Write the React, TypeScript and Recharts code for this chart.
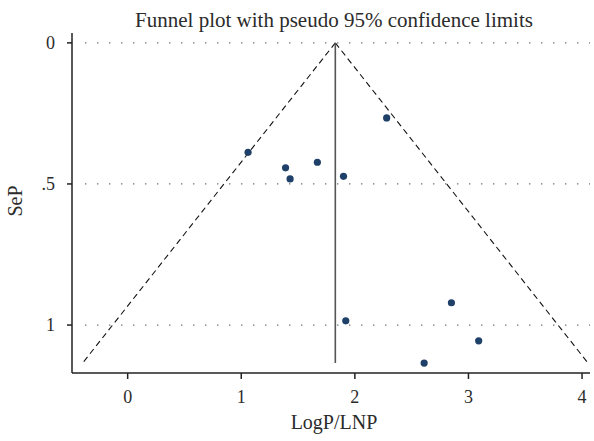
import {
  ComposedChart,
  ReferenceLine,
  Scatter,
  XAxis,
  YAxis,
} from "recharts";

// study estimates: effect (LogP/LNP) and standard error (SeP)
const effects = [1.06, 1.39, 1.43, 1.67, 1.9, 2.28, 1.92, 2.85, 3.09, 2.61];
const stdErrors = [0.388, 0.443, 0.482, 0.423, 0.473, 0.266, 0.985, 0.921, 1.056, 1.135];

// pooled estimate and pseudo 95% limits (apex -> bottom corners)
const pooled = 1.828;
const seMax = 1.135;
const leftLimit = [pooled, -0.397];
const rightLimit = [pooled, 4.053];
const limitSe = [0, seMax];

const xTicks = [0, 1, 2, 3, 4];
const yTicks = [0, 0.5, 1];
const xDomain = [-0.49, 4.07];
const yDomain = [-0.035, 1.17];

const title = "Funnel plot with pseudo 95% confidence limits";
const xLabel = "LogP/LNP";
const yLabel = "SeP";

const points = effects.map((x, i) => ({ x, y: stdErrors[i] }));

const FONT = "'Liberation Serif', 'DejaVu Serif', serif";
const TEXT = "#2b2b2b";
const AXIS = "#222";

const Dot = (props: any) => (
  <circle cx={props.cx} cy={props.cy} r={3.6} fill="#1f4068" />
);

export default function App() {
  return (
    <div style={{ position: "absolute", left: 0, top: 0, width: 594, height: 441, background: "#fff" }}>
      <ComposedChart
        width={594}
        height={441}
        margin={{ top: 33, right: 4, bottom: 28, left: 0 }}
      >
        <XAxis
          type="number"
          dataKey="x"
          domain={xDomain}
          ticks={xTicks}
          allowDataOverflow
          height={40}
          tickSize={6}
          tickMargin={11}
          axisLine={{ stroke: AXIS, strokeWidth: 1.5 }}
          tickLine={{ stroke: AXIS, strokeWidth: 1.5 }}
          tick={{ fontSize: 18, fill: TEXT, fontFamily: FONT }}
        />
        <YAxis
          type="number"
          dataKey="y"
          domain={yDomain}
          reversed
          ticks={yTicks}
          allowDataOverflow
          width={72}
          tickSize={5}
          tickMargin={12}
          tickFormatter={(v: number) => (v === 0.5 ? ".5" : String(v))}
          axisLine={{ stroke: AXIS, strokeWidth: 1.5 }}
          tickLine={{ stroke: AXIS, strokeWidth: 1.5 }}
          tick={{ fontSize: 18, fill: TEXT, fontFamily: FONT }}
        />
        {yTicks.map((t) => (
          <ReferenceLine
            key={t}
            segment={[
              { x: -0.375, y: t },
              { x: xDomain[1], y: t },
            ]}
            stroke="#666"
            strokeWidth={1.3}
            strokeDasharray="1.3 10.7"
            ifOverflow="visible"
          />
        ))}
        <ReferenceLine
          segment={[
            { x: leftLimit[0], y: limitSe[0] },
            { x: leftLimit[1], y: limitSe[1] },
          ]}
          stroke="#111"
          strokeWidth={1.1}
          strokeDasharray="6 4"
        />
        <ReferenceLine
          segment={[
            { x: rightLimit[0], y: limitSe[0] },
            { x: rightLimit[1], y: limitSe[1] },
          ]}
          stroke="#111"
          strokeWidth={1.1}
          strokeDasharray="6 4"
        />
        <ReferenceLine
          segment={[
            { x: pooled, y: limitSe[0] },
            { x: pooled, y: limitSe[1] },
          ]}
          stroke="#555"
          strokeWidth={1.6}
        />
        <Scatter data={points} shape={Dot} isAnimationActive={false} />
      </ComposedChart>
      <svg
        width={594}
        height={441}
        style={{ position: "absolute", left: 0, top: 0, pointerEvents: "none" }}
      >
        <text x={334} y={27} textAnchor="middle" fontSize={21} fill={TEXT} fontFamily={FONT}>
          {title}
        </text>
        <text x={334} y={429} textAnchor="middle" fontSize={20} fill={TEXT} fontFamily={FONT}>
          {xLabel}
        </text>
        <text
          x={22}
          y={201}
          textAnchor="middle"
          fontSize={20}
          fill={TEXT}
          fontFamily={FONT}
          transform="rotate(-90 22 201)"
        >
          {yLabel}
        </text>
      </svg>
    </div>
  );
}
